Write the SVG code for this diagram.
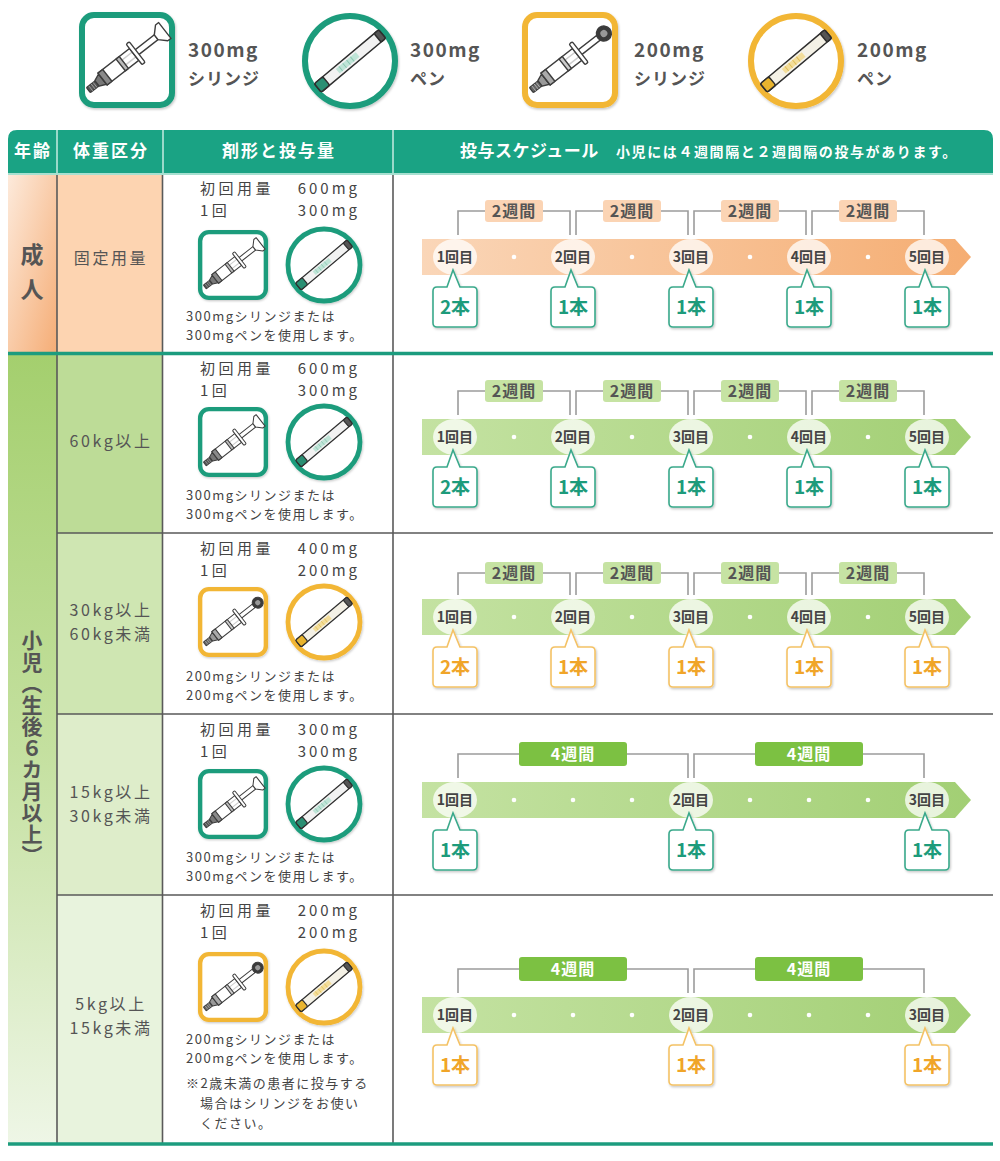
<svg xmlns="http://www.w3.org/2000/svg" xmlns:xlink="http://www.w3.org/1999/xlink" width="1000" height="1161" viewBox="0 0 1000 1161">
<style>
text { font-family: "Noto Sans CJK JP", "Noto Sans", sans-serif; }
.hd { font-size:17px; font-weight:700; fill:#fff; letter-spacing:2px; text-anchor:middle; }
.hs { font-size:14px; font-weight:700; fill:#fff; letter-spacing:1.6px; }
.lg1 { font-size:19px; font-weight:700; fill:#555; letter-spacing:1.5px; }
.lg2 { font-size:17px; font-weight:700; fill:#555; letter-spacing:1px; }
.age { font-size:23px; font-weight:700; fill:#555; text-anchor:middle; }
.wt { font-size:16px; fill:#555; letter-spacing:2.6px; text-anchor:middle; }
.fm { font-size:15px; fill:#444; letter-spacing:3.5px; }
.fmr { font-size:15px; fill:#444; letter-spacing:3px; text-anchor:end; }
.cap { font-size:13px; fill:#444; letter-spacing:1.5px; }
.pt { font-size:14px; font-weight:700; fill:#444; text-anchor:middle; }
.wk { font-size:16px; font-weight:700; fill:#555; text-anchor:middle; letter-spacing:1px; }
.wk4 { font-size:16px; font-weight:700; fill:#fff; text-anchor:middle; letter-spacing:1px; }
.ct { font-size:19px; font-weight:700; fill:#1d9b7b; text-anchor:middle; }
.co { font-size:19px; font-weight:700; fill:#f0a529; text-anchor:middle; }
.bk { fill:none; stroke:#9c9c9c; stroke-width:1.6; }
.cT { fill:#fff; stroke:#3aa98b; stroke-width:1.6; filter:url(#sh); }
.cO { fill:#fff; stroke:#f4c265; stroke-width:1.6; filter:url(#sh); }
.pc { fill:#fff; fill-opacity:0.75; }
.dot { fill:#fff; }
.lbO { fill:#fbd4b4; }
.lbG { fill:#c6e3a3; }
.lb4 { fill:#7cc142; }
.vl { stroke:#5a5a5a; stroke-width:1.6; }
.tl { stroke:#1c9c7e; stroke-width:3.5; }
</style>
<defs>
  <filter id="sh" x="-20%" y="-20%" width="140%" height="140%">
    <feDropShadow dx="1" dy="1.5" stdDeviation="1.2" flood-color="#000" flood-opacity="0.22"/>
  </filter>
  <linearGradient id="gAdultAge" x1="0" y1="0" x2="1" y2="1">
    <stop offset="0" stop-color="#fdeadb"/>
    <stop offset="1" stop-color="#f5ad76"/>
  </linearGradient>
  <linearGradient id="gChildAge" x1="0" y1="0" x2="0" y2="1">
    <stop offset="0" stop-color="#a4cf6e"/>
    <stop offset="0.5" stop-color="#c4e09f"/>
    <stop offset="1" stop-color="#eef6e6"/>
  </linearGradient>
  <linearGradient id="bandO" x1="0" y1="0" x2="1" y2="0">
    <stop offset="0" stop-color="#fad6b8"/>
    <stop offset="1" stop-color="#f5ad72"/>
  </linearGradient>
  <linearGradient id="bandG" x1="0" y1="0" x2="1" y2="0">
    <stop offset="0" stop-color="#c4e2a2"/>
    <stop offset="1" stop-color="#a2cf74"/>
  </linearGradient>
  <path id="co" d="M-18,30 H-8 L-2,13 L5,30 H18 Q22,30 22,34 V66 Q22,70 18,70 H-18 Q-22,70 -22,66 V34 Q-22,30 -18,30 Z"/>
  <g id="syr300" stroke="#3d3d3d" stroke-width="1.4" stroke-linejoin="round">
    <rect x="-4" y="-3" width="41" height="6" fill="#fff"/>
    <rect x="-49" y="-3.2" width="11" height="6.4" rx="1" fill="#555"/>
    <path d="M-46,-3.2V3.2M-43,-3.2V3.2M-40.5,-3.2V3.2" stroke="#aaa" stroke-width="0.8"/>
    <path d="M-38,-3.5 L-31,-6.5 V6.5 L-38,3.5 Z" fill="#777"/>
    <rect x="-31" y="-7.5" width="40" height="15" fill="#fff" fill-opacity="0.75"/>
    <rect x="-31" y="-7.5" width="6" height="15" fill="#8a8a8a"/>
    <rect x="-8" y="-7.5" width="4" height="15" fill="#bbb"/>
    <rect x="9" y="-13" width="4" height="26" rx="1.5" fill="#fff"/>
    <path d="M37,-3 L44,-10 H48 V10 H44 L37,3 Z" fill="#fff"/>
  </g>
  <g id="syr200" stroke="#3d3d3d" stroke-width="1.4" stroke-linejoin="round">
    <rect x="-4" y="-3" width="40" height="6" fill="#fff"/>
    <rect x="-49" y="-3.2" width="11" height="6.4" rx="1" fill="#666"/>
    <path d="M-46,-3.2V3.2M-43,-3.2V3.2M-40.5,-3.2V3.2" stroke="#bbb" stroke-width="0.8"/>
    <path d="M-38,-3.5 L-31,-6.5 V6.5 L-38,3.5 Z" fill="#999"/>
    <rect x="-31" y="-7.5" width="40" height="15" fill="#fff" fill-opacity="0.75"/>
    <rect x="-31" y="-7.5" width="6" height="15" fill="#aaa"/>
    <rect x="-8" y="-7.5" width="4" height="15" fill="#ccc"/>
    <rect x="9" y="-13" width="4" height="26" rx="1.5" fill="#fff"/>
    <circle cx="43" cy="0" r="7.5" fill="#3a3a3a"/>
    <circle cx="43" cy="0" r="3.5" fill="#999" stroke="none"/>
  </g>
  <g id="pen300" stroke="#2e2e2e" stroke-width="1.5" stroke-linejoin="round">
    <rect x="-42" y="-5.5" width="84" height="11" rx="2" fill="#f2f2f2"/>
    <rect x="-16" y="-3" width="26" height="6" fill="#bfe4d7" stroke="none"/>
    <path d="M-12,-3V3M-7,-3V3M-2,-3V3M3,-3V3" stroke="#8cc7b2" stroke-width="1"/>
    <rect x="-42" y="-5.5" width="11" height="11" rx="2" fill="#2a8f73"/>
    <rect x="36" y="-5.5" width="6" height="11" rx="1.5" fill="#555"/>
  </g>
  <g id="pen200" stroke="#2e2e2e" stroke-width="1.5" stroke-linejoin="round">
    <rect x="-42" y="-5.5" width="84" height="11" rx="2" fill="#f4f1e6"/>
    <rect x="-16" y="-3" width="26" height="6" fill="#f3dd9a" stroke="none"/>
    <path d="M-12,-3V3M-7,-3V3M-2,-3V3M3,-3V3" stroke="#e0bf5a" stroke-width="1"/>
    <rect x="-42" y="-5.5" width="11" height="11" rx="2" fill="#e9b42d"/>
    <rect x="36" y="-5.5" width="6" height="11" rx="1.5" fill="#555"/>
  </g>
  <g id="iSq300">
    <rect x="-45" y="-45" width="90" height="90" rx="12" fill="#fff" stroke="#1d9c7c" stroke-width="6"/>
    <use href="#syr300" transform="rotate(-38)"/>
  </g>
  <g id="iSq200">
    <rect x="-45" y="-45" width="90" height="90" rx="12" fill="#fff" stroke="#f2b635" stroke-width="6"/>
    <use href="#syr200" transform="rotate(-38)"/>
  </g>
  <g id="iCi300">
    <circle r="45" fill="#fff" stroke="#1d9c7c" stroke-width="6"/>
    <use href="#pen300" transform="rotate(-40)"/>
  </g>
  <g id="iCi200">
    <circle r="45" fill="#fff" stroke="#f2b635" stroke-width="6"/>
    <use href="#pen200" transform="rotate(-40)"/>
  </g>
</defs>

<rect width="1000" height="1161" fill="#fff"/>

<!-- Legend -->
<g id="legend-syringe300">
  <use href="#iSq300" transform="translate(127,60)" filter="url(#sh)"/>
  <text class="lg1" x="188" y="57">300mg<tspan x="188" y="85" class="lg2">シリンジ</tspan></text>
</g>
<g id="legend-pen300">
  <use href="#iCi300" transform="translate(350,61)" filter="url(#sh)"/>
  <text class="lg1" x="410" y="57">300mg<tspan x="410" y="85" class="lg2">ペン</tspan></text>
</g>
<g id="legend-syringe200">
  <use href="#iSq200" transform="translate(570,60)" filter="url(#sh)"/>
  <text class="lg1" x="634" y="57">200mg<tspan x="634" y="85" class="lg2">シリンジ</tspan></text>
</g>
<g id="legend-pen200">
  <use href="#iCi200" transform="translate(796,61)" filter="url(#sh)"/>
  <text class="lg1" x="857" y="57">200mg<tspan x="857" y="85" class="lg2">ペン</tspan></text>
</g>

<!-- Header -->
<g id="header">
  <path d="M8,173 V139 Q8,130 17,130 H984 Q993,130 993,139 V173 Z" fill="#1aa384"/>
  <path d="M57,130V173M163,130V173M393,130V173" stroke="#c6ece1" stroke-width="1.5"/>
  <line x1="8" y1="174" x2="993" y2="174" stroke="#8ad6c1" stroke-width="1.5"/>
  <text x="33" y="157" class="hd">年齢</text>
  <text x="111" y="157" class="hd">体重区分</text>
  <text x="279" y="157" class="hd">剤形と投与量</text>
  <text x="460" y="157" class="hd" style="text-anchor:start;letter-spacing:0.5px">投与スケジュール</text>
  <text x="616" y="157" class="hs">小児には４週間隔と２週間隔の投与があります。</text>
</g>

<!-- Row backgrounds and left cells -->
<g id="cell-adult-age">
  <rect x="8" y="175" width="49" height="177" fill="url(#gAdultAge)"/>
  <text class="age" x="32" y="263">成<tspan x="32" y="298">人</tspan></text>
</g>
<g id="cell-adult-weight">
  <rect x="57" y="175" width="106" height="177" fill="#fdd4b1"/>
  <text x="111" y="264" class="wt">固定用量</text>
</g>
<g id="cell-child-age">
  <rect x="8" y="355" width="49" height="788" fill="url(#gChildAge)"/>
  <text x="32" y="748" class="age" style="writing-mode:vertical-rl;font-size:21px;letter-spacing:0.5px">小児（生後６カ月以上）</text>
</g>
<g id="cell-w60">
  <rect x="57" y="355" width="106" height="178" fill="#bddc97"/>
  <text x="111" y="447" class="wt">60kg以上</text>
</g>
<g id="cell-w30-60">
  <rect x="57" y="533" width="106" height="181" fill="#cfe6b2"/>
  <text class="wt" x="111" y="616">30kg以上<tspan x="111" y="640">60kg未満</tspan></text>
</g>
<g id="cell-w15-30">
  <rect x="57" y="714" width="106" height="181" fill="#deedca"/>
  <text class="wt" x="111" y="798">15kg以上<tspan x="111" y="822">30kg未満</tspan></text>
</g>
<g id="cell-w5-15">
  <rect x="57" y="895" width="106" height="248" fill="#e8f3dd"/>
  <text class="wt" x="111" y="1010">5kg以上<tspan x="111" y="1034">15kg未満</tspan></text>
</g>

<!-- Grid lines -->
<g id="grid">
  <path d="M57,175V1143M162.5,175V1143M393,175V1143" class="vl"/>
  <path d="M57,533H993M57,714H993M57,895H993" class="vl"/>
  <line x1="8" y1="353.5" x2="993" y2="353.5" class="tl"/>
  <line x1="8" y1="1144" x2="993" y2="1144" class="tl"/>
</g>

<!-- Dose cells -->
<g id="dose-adult">
  <text class="fm" x="200" y="194">初回用量<tspan x="200" y="216">1回</tspan></text>
  <text class="fmr" x="360" y="194">600mg<tspan x="360" y="216">300mg</tspan></text>
  <use href="#iSq300" transform="translate(233,265) scale(0.73)" filter="url(#sh)"/>
  <use href="#iCi300" transform="translate(324,265) scale(0.8)" filter="url(#sh)"/>
  <text class="cap" x="186" y="321">300mgシリンジまたは<tspan x="186" y="340">300mgペンを使用します。</tspan></text>
</g>
<g id="dose-w60">
  <text class="fm" x="200" y="374">初回用量<tspan x="200" y="396">1回</tspan></text>
  <text class="fmr" x="360" y="374">600mg<tspan x="360" y="396">300mg</tspan></text>
  <use href="#iSq300" transform="translate(233,442) scale(0.73)" filter="url(#sh)"/>
  <use href="#iCi300" transform="translate(324,442) scale(0.8)" filter="url(#sh)"/>
  <text class="cap" x="186" y="500">300mgシリンジまたは<tspan x="186" y="519">300mgペンを使用します。</tspan></text>
</g>
<g id="dose-w30-60">
  <text class="fm" x="200" y="554">初回用量<tspan x="200" y="576">1回</tspan></text>
  <text class="fmr" x="360" y="554">400mg<tspan x="360" y="576">200mg</tspan></text>
  <use href="#iSq200" transform="translate(233,622) scale(0.73)" filter="url(#sh)"/>
  <use href="#iCi200" transform="translate(324,622) scale(0.8)" filter="url(#sh)"/>
  <text class="cap" x="186" y="681">200mgシリンジまたは<tspan x="186" y="700">200mgペンを使用します。</tspan></text>
</g>
<g id="dose-w15-30">
  <text class="fm" x="200" y="735">初回用量<tspan x="200" y="757">1回</tspan></text>
  <text class="fmr" x="360" y="735">300mg<tspan x="360" y="757">300mg</tspan></text>
  <use href="#iSq300" transform="translate(233,804) scale(0.73)" filter="url(#sh)"/>
  <use href="#iCi300" transform="translate(324,804) scale(0.8)" filter="url(#sh)"/>
  <text class="cap" x="186" y="862">300mgシリンジまたは<tspan x="186" y="881">300mgペンを使用します。</tspan></text>
</g>
<g id="dose-w5-15">
  <text class="fm" x="200" y="916">初回用量<tspan x="200" y="938">1回</tspan></text>
  <text class="fmr" x="360" y="916">200mg<tspan x="360" y="938">200mg</tspan></text>
  <use href="#iSq200" transform="translate(233,987) scale(0.73)" filter="url(#sh)"/>
  <use href="#iCi200" transform="translate(324,987) scale(0.8)" filter="url(#sh)"/>
  <text class="cap" x="186" y="1044">200mgシリンジまたは<tspan x="186" y="1063">200mgペンを使用します。</tspan><tspan x="186" y="1088">※2歳未満の患者に投与する</tspan><tspan x="200" y="1108">場合はシリンジをお使い</tspan><tspan x="200" y="1128">ください。</tspan></text>
</g>

<!-- Connectors (interval brackets) -->
<g id="connectors" class="bk">
  <path d="M458,235V211H570V235M576,235V211H688V235M694,235V211H806V235M812,235V211H924V235"/>
  <path d="M458,415V391H570V415M576,415V391H688V415M694,415V391H806V415M812,415V391H924V415"/>
  <path d="M458,595V573H570V595M576,595V573H688V595M694,595V573H806V595M812,595V573H924V595"/>
  <path d="M458,778V754H688V778M694,778V754H924V778"/>
  <path d="M458,993V969H688V993M694,993V969H924V993"/>
</g>

<!-- Schedule: adult -->
<g id="sched-adult">
  <path d="M422,239H955L971,257L955,275H422Z" fill="url(#bandO)"/>
  <circle cx="514" cy="257" r="2.3" class="dot"/><circle cx="632" cy="257" r="2.3" class="dot"/><circle cx="750" cy="257" r="2.3" class="dot"/><circle cx="868" cy="257" r="2.3" class="dot"/>
  <g id="a-i1"><rect x="485" y="200" width="58" height="22" rx="3" class="lbO"/><text x="514" y="216.5" class="wk">2週間</text></g>
  <g id="a-i2"><rect x="603" y="200" width="58" height="22" rx="3" class="lbO"/><text x="632" y="216.5" class="wk">2週間</text></g>
  <g id="a-i3"><rect x="721" y="200" width="58" height="22" rx="3" class="lbO"/><text x="750" y="216.5" class="wk">2週間</text></g>
  <g id="a-i4"><rect x="839" y="200" width="58" height="22" rx="3" class="lbO"/><text x="868" y="216.5" class="wk">2週間</text></g>
  <g id="a-v1"><ellipse cx="455" cy="257" rx="22" ry="18" class="pc"/><text x="455" y="262" class="pt">1回目</text><use href="#co" x="455" y="257" class="cT"/><text x="455" y="314" class="ct">2本</text></g>
  <g id="a-v2"><ellipse cx="573" cy="257" rx="22" ry="18" class="pc"/><text x="573" y="262" class="pt">2回目</text><use href="#co" x="573" y="257" class="cT"/><text x="573" y="314" class="ct">1本</text></g>
  <g id="a-v3"><ellipse cx="691" cy="257" rx="22" ry="18" class="pc"/><text x="691" y="262" class="pt">3回目</text><use href="#co" x="691" y="257" class="cT"/><text x="691" y="314" class="ct">1本</text></g>
  <g id="a-v4"><ellipse cx="809" cy="257" rx="22" ry="18" class="pc"/><text x="809" y="262" class="pt">4回目</text><use href="#co" x="809" y="257" class="cT"/><text x="809" y="314" class="ct">1本</text></g>
  <g id="a-v5"><ellipse cx="927" cy="257" rx="22" ry="18" class="pc"/><text x="927" y="262" class="pt">5回目</text><use href="#co" x="927" y="257" class="cT"/><text x="927" y="314" class="ct">1本</text></g>
</g>

<!-- Schedule: 60kg -->
<g id="sched-w60">
  <path d="M422,419H955L971,437L955,455H422Z" fill="url(#bandG)"/>
  <circle cx="514" cy="437" r="2.3" class="dot"/><circle cx="632" cy="437" r="2.3" class="dot"/><circle cx="750" cy="437" r="2.3" class="dot"/><circle cx="868" cy="437" r="2.3" class="dot"/>
  <g id="b-i1"><rect x="485" y="380" width="58" height="22" rx="3" class="lbG"/><text x="514" y="396.5" class="wk">2週間</text></g>
  <g id="b-i2"><rect x="603" y="380" width="58" height="22" rx="3" class="lbG"/><text x="632" y="396.5" class="wk">2週間</text></g>
  <g id="b-i3"><rect x="721" y="380" width="58" height="22" rx="3" class="lbG"/><text x="750" y="396.5" class="wk">2週間</text></g>
  <g id="b-i4"><rect x="839" y="380" width="58" height="22" rx="3" class="lbG"/><text x="868" y="396.5" class="wk">2週間</text></g>
  <g id="b-v1"><ellipse cx="455" cy="437" rx="22" ry="18" class="pc"/><text x="455" y="442" class="pt">1回目</text><use href="#co" x="455" y="437" class="cT"/><text x="455" y="494" class="ct">2本</text></g>
  <g id="b-v2"><ellipse cx="573" cy="437" rx="22" ry="18" class="pc"/><text x="573" y="442" class="pt">2回目</text><use href="#co" x="573" y="437" class="cT"/><text x="573" y="494" class="ct">1本</text></g>
  <g id="b-v3"><ellipse cx="691" cy="437" rx="22" ry="18" class="pc"/><text x="691" y="442" class="pt">3回目</text><use href="#co" x="691" y="437" class="cT"/><text x="691" y="494" class="ct">1本</text></g>
  <g id="b-v4"><ellipse cx="809" cy="437" rx="22" ry="18" class="pc"/><text x="809" y="442" class="pt">4回目</text><use href="#co" x="809" y="437" class="cT"/><text x="809" y="494" class="ct">1本</text></g>
  <g id="b-v5"><ellipse cx="927" cy="437" rx="22" ry="18" class="pc"/><text x="927" y="442" class="pt">5回目</text><use href="#co" x="927" y="437" class="cT"/><text x="927" y="494" class="ct">1本</text></g>
</g>

<!-- Schedule: 30-60kg -->
<g id="sched-w30-60">
  <path d="M422,599H955L971,617L955,635H422Z" fill="url(#bandG)"/>
  <circle cx="514" cy="617" r="2.3" class="dot"/><circle cx="632" cy="617" r="2.3" class="dot"/><circle cx="750" cy="617" r="2.3" class="dot"/><circle cx="868" cy="617" r="2.3" class="dot"/>
  <g id="c-i1"><rect x="485" y="562" width="58" height="22" rx="3" class="lbG"/><text x="514" y="578.5" class="wk">2週間</text></g>
  <g id="c-i2"><rect x="603" y="562" width="58" height="22" rx="3" class="lbG"/><text x="632" y="578.5" class="wk">2週間</text></g>
  <g id="c-i3"><rect x="721" y="562" width="58" height="22" rx="3" class="lbG"/><text x="750" y="578.5" class="wk">2週間</text></g>
  <g id="c-i4"><rect x="839" y="562" width="58" height="22" rx="3" class="lbG"/><text x="868" y="578.5" class="wk">2週間</text></g>
  <g id="c-v1"><ellipse cx="455" cy="617" rx="22" ry="18" class="pc"/><text x="455" y="622" class="pt">1回目</text><use href="#co" x="455" y="617" class="cO"/><text x="455" y="674" class="co">2本</text></g>
  <g id="c-v2"><ellipse cx="573" cy="617" rx="22" ry="18" class="pc"/><text x="573" y="622" class="pt">2回目</text><use href="#co" x="573" y="617" class="cO"/><text x="573" y="674" class="co">1本</text></g>
  <g id="c-v3"><ellipse cx="691" cy="617" rx="22" ry="18" class="pc"/><text x="691" y="622" class="pt">3回目</text><use href="#co" x="691" y="617" class="cO"/><text x="691" y="674" class="co">1本</text></g>
  <g id="c-v4"><ellipse cx="809" cy="617" rx="22" ry="18" class="pc"/><text x="809" y="622" class="pt">4回目</text><use href="#co" x="809" y="617" class="cO"/><text x="809" y="674" class="co">1本</text></g>
  <g id="c-v5"><ellipse cx="927" cy="617" rx="22" ry="18" class="pc"/><text x="927" y="622" class="pt">5回目</text><use href="#co" x="927" y="617" class="cO"/><text x="927" y="674" class="co">1本</text></g>
</g>

<!-- Schedule: 15-30kg -->
<g id="sched-w15-30">
  <path d="M422,782H955L971,800L955,818H422Z" fill="url(#bandG)"/>
  <circle cx="514" cy="800" r="2.3" class="dot"/><circle cx="573" cy="800" r="2.3" class="dot"/><circle cx="632" cy="800" r="2.3" class="dot"/>
  <circle cx="750" cy="800" r="2.3" class="dot"/><circle cx="809" cy="800" r="2.3" class="dot"/><circle cx="868" cy="800" r="2.3" class="dot"/>
  <g id="d-i1"><rect x="519" y="742" width="108" height="24" rx="3" class="lb4"/><text x="573" y="759.5" class="wk4">4週間</text></g>
  <g id="d-i2"><rect x="755" y="742" width="108" height="24" rx="3" class="lb4"/><text x="809" y="759.5" class="wk4">4週間</text></g>
  <g id="d-v1"><ellipse cx="455" cy="800" rx="22" ry="18" class="pc"/><text x="455" y="805" class="pt">1回目</text><use href="#co" x="455" y="800" class="cT"/><text x="455" y="857" class="ct">1本</text></g>
  <g id="d-v2"><ellipse cx="691" cy="800" rx="22" ry="18" class="pc"/><text x="691" y="805" class="pt">2回目</text><use href="#co" x="691" y="800" class="cT"/><text x="691" y="857" class="ct">1本</text></g>
  <g id="d-v3"><ellipse cx="927" cy="800" rx="22" ry="18" class="pc"/><text x="927" y="805" class="pt">3回目</text><use href="#co" x="927" y="800" class="cT"/><text x="927" y="857" class="ct">1本</text></g>
</g>

<!-- Schedule: 5-15kg -->
<g id="sched-w5-15">
  <path d="M422,997H955L971,1015L955,1033H422Z" fill="url(#bandG)"/>
  <circle cx="514" cy="1015" r="2.3" class="dot"/><circle cx="573" cy="1015" r="2.3" class="dot"/><circle cx="632" cy="1015" r="2.3" class="dot"/>
  <circle cx="750" cy="1015" r="2.3" class="dot"/><circle cx="809" cy="1015" r="2.3" class="dot"/><circle cx="868" cy="1015" r="2.3" class="dot"/>
  <g id="e-i1"><rect x="519" y="957" width="108" height="24" rx="3" class="lb4"/><text x="573" y="974.5" class="wk4">4週間</text></g>
  <g id="e-i2"><rect x="755" y="957" width="108" height="24" rx="3" class="lb4"/><text x="809" y="974.5" class="wk4">4週間</text></g>
  <g id="e-v1"><ellipse cx="455" cy="1015" rx="22" ry="18" class="pc"/><text x="455" y="1020" class="pt">1回目</text><use href="#co" x="455" y="1015" class="cO"/><text x="455" y="1072" class="co">1本</text></g>
  <g id="e-v2"><ellipse cx="691" cy="1015" rx="22" ry="18" class="pc"/><text x="691" y="1020" class="pt">2回目</text><use href="#co" x="691" y="1015" class="cO"/><text x="691" y="1072" class="co">1本</text></g>
  <g id="e-v3"><ellipse cx="927" cy="1015" rx="22" ry="18" class="pc"/><text x="927" y="1020" class="pt">3回目</text><use href="#co" x="927" y="1015" class="cO"/><text x="927" y="1072" class="co">1本</text></g>
</g>
</svg>
